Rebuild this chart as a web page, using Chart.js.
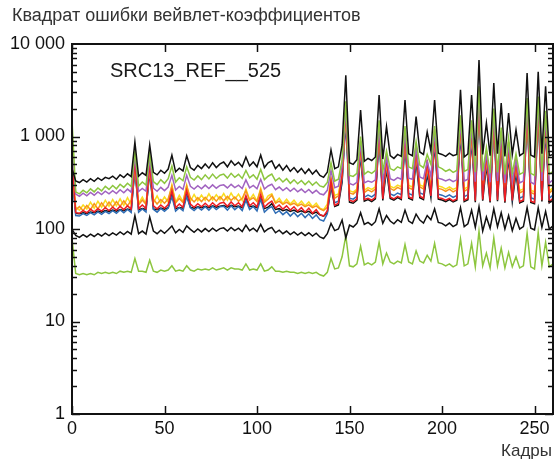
<!DOCTYPE html>
<html>
<head>
<meta charset="utf-8">
<script src="https://cdn.jsdelivr.net/npm/chart.js@4.4.1/dist/chart.umd.min.js"></script>
<style>
body { margin: 0; background: #fff; }
#wrap { position: relative; width: 558px; height: 462px; font-family: "Liberation Sans", Arial, sans-serif; color: #1a1a1a; }
#wrap canvas { position: absolute; left: 0; top: 0; }
#title { position: absolute; left: 12px; top: 5px; font-size: 18px; color: #333; }
#tag { position: absolute; left: 110px; top: 59px; font-size: 20px; }
#xlab { position: absolute; right: 6px; top: 441px; font-size: 17px; color: #333; }
</style>
</head>
<body>
<div id="wrap">
  <canvas id="myChart" width="558" height="462"></canvas>
  <div id="title">Квадрат ошибки вейвлет-коэффициентов</div>
  <div id="tag">SRC13_REF__525</div>
  <div id="xlab">Кадры</div>
</div>
<script>
// frames sampled every 2 frames, 0..260
const frames = Array.from({length: 131}, (_, i) => i * 2)

const xTicks = [0, 50, 100, 150, 200, 250]
const yTicks = [1, 10, 100, 1000, 10000]
const yLabels = ['1', '10', '100', '1 000', '10 000']

const blackTop = [
  450,330,318,342,322,350,328,356,335,362,
  350,372,345,385,360,395,368,870,372,405,
  380,810,410,385,432,400,445,630,415,455,
  425,620,462,432,488,450,505,455,520,462,
  505,530,470,545,488,525,470,600,480,530,
  470,630,462,520,545,450,498,432,485,420,
  462,410,452,398,445,392,432,380,362,410,
  715,450,470,810,4600,520,500,560,1930,540,
  580,550,600,2800,570,1280,620,580,640,610,
  2480,650,620,1640,680,640,1120,700,2480,660,
  640,610,660,620,640,3200,600,650,2800,620,
  6700,640,1400,620,3790,650,2300,610,1790,640,
  1180,620,660,4860,630,600,5000,650,3500,620,
  640]
const greenTop = [
  1500,252,240,262,246,272,252,278,258,290,
  268,295,272,305,282,312,288,700,292,322,
  298,650,325,302,342,312,350,480,322,358,
  332,470,362,338,375,342,385,348,392,352,
  382,392,355,400,362,390,352,430,358,385,
  345,440,342,372,392,332,356,322,350,312,
  340,308,334,302,330,298,322,292,284,318,
  520,330,345,560,2400,380,370,400,1000,390,
  420,400,430,1500,420,700,450,430,470,450,
  1300,470,450,880,490,460,640,500,1300,470,
  450,420,440,410,430,1700,420,440,1500,410,
  3500,420,760,400,2000,410,1250,390,960,400,
  650,390,410,2600,400,380,2700,410,1900,390,
  420]
const purple = [
  900,238,226,244,228,248,232,252,236,256,
  240,260,242,266,246,270,250,620,254,274,
  256,580,276,256,282,260,284,380,264,288,
  268,380,290,270,294,272,298,274,300,276,
  296,300,278,304,280,298,274,340,278,296,
  272,345,270,292,305,266,284,260,280,256,
  276,252,270,248,268,244,262,240,234,262,
  430,280,290,470,2100,310,300,320,880,315,
  330,320,340,1300,330,600,350,335,360,345,
  1150,355,345,760,365,350,540,370,1150,355,
  345,330,345,325,340,1500,330,345,1300,325,
  3100,335,660,320,1750,330,1100,315,840,325,
  560,315,330,2300,320,305,2400,330,1650,315,
  340]
const yellow = [
  500,172,160,182,165,195,168,200,172,205,
  176,208,178,212,180,218,184,520,188,222,
  186,480,192,228,190,222,196,300,194,232,
  198,300,200,236,202,232,204,240,206,234,
  208,242,205,245,210,238,204,270,208,236,
  200,275,198,228,240,194,215,188,210,186,
  205,182,200,178,196,174,190,168,162,186,
  360,230,240,400,1900,260,250,270,780,262,
  280,268,285,1150,275,530,290,278,298,285,
  1000,295,285,670,300,288,470,305,1000,292,
  285,270,285,268,280,1350,272,285,1150,268,
  2800,275,580,265,1550,272,960,260,740,268,
  490,260,272,2000,262,252,2100,270,1450,258,
  280]
const orange = [
  480,160,175,158,180,162,188,165,192,170,
  195,172,198,175,202,178,205,500,182,206,
  185,460,210,186,208,190,212,290,192,214,
  194,290,216,196,218,198,220,200,222,200,
  224,202,225,204,222,200,215,260,205,218,
  198,265,195,210,232,190,200,185,195,182,
  190,178,186,174,182,170,178,165,158,172,
  340,215,228,380,1800,245,238,258,740,248,
  265,252,270,1080,260,500,275,262,282,268,
  950,280,268,630,285,272,445,290,950,275,
  268,255,270,252,265,1280,256,270,1080,252,
  2650,260,550,250,1470,256,910,246,700,252,
  465,246,258,1900,248,238,2000,255,1380,244,
  265]
const red = [
  550,150,148,158,150,164,153,166,156,170,
  158,172,160,176,162,178,164,560,166,182,
  166,520,178,165,182,168,184,260,170,186,
  172,260,186,172,188,174,190,174,192,176,
  190,194,176,196,178,192,174,230,178,192,
  174,235,172,188,200,168,182,164,178,160,
  174,156,170,152,168,148,162,143,138,158,
  330,180,190,380,2200,205,198,212,900,208,
  215,205,220,1350,212,620,222,212,226,216,
  1200,222,214,800,226,216,560,228,1200,218,
  214,205,215,202,212,1600,205,214,1380,202,
  3300,208,690,200,1850,206,1130,198,870,204,
  580,198,206,2400,200,194,2500,205,1700,198,
  215]
const blue = [
  400,140,138,147,140,150,142,153,144,155,
  147,158,148,161,150,163,151,480,152,165,
  153,450,163,152,167,155,168,225,156,170,
  158,225,170,158,172,160,174,160,176,162,
  174,176,160,178,162,175,158,205,162,175,
  157,210,152,166,175,148,158,143,154,138,
  151,136,148,133,146,130,142,126,122,146,
  300,192,200,340,1600,215,210,225,680,220,
  232,222,238,1000,228,470,240,230,245,235,
  900,242,232,600,246,236,420,248,900,238,
  232,222,234,220,230,1200,224,234,1020,220,
  2500,228,520,218,1380,226,850,216,650,222,
  435,216,225,1800,218,210,1850,224,1280,216,
  232]
const blackMid = [
  420,148,146,150,147,153,150,156,152,158,
  155,160,156,162,158,164,160,450,162,166,
  163,420,165,162,168,164,170,235,166,171,
  168,235,172,168,174,170,176,170,178,172,
  176,179,172,180,174,177,170,215,174,177,
  170,218,166,172,188,163,166,158,162,155,
  160,152,157,150,155,146,152,142,138,150,
  290,175,182,320,1500,195,190,205,640,200,
  208,198,212,950,204,440,214,205,218,208,
  850,215,206,560,218,208,395,220,850,210,
  206,198,208,196,205,1120,198,207,960,195,
  2350,202,490,194,1300,200,800,192,610,198,
  410,192,200,1700,194,188,1750,198,1200,192,
  205]
const blackLow = [
  100,85,81,87,82,88,83,89,84,90,
  85,91,86,93,87,94,88,140,89,95,
  88,135,95,89,97,90,98,108,91,99,
  92,108,99,92,100,93,101,94,102,95,
  101,103,95,104,96,102,94,110,96,102,
  94,112,93,100,104,91,97,89,95,87,
  93,86,92,85,91,84,90,82,79,89,
  115,96,100,125,80,110,105,115,150,112,
  118,110,120,165,115,140,122,114,126,118,
  160,122,115,145,125,116,140,126,165,118,
  115,108,116,106,112,170,106,114,160,104,
  175,95,135,102,165,106,150,100,140,96,
  130,100,106,170,102,98,170,104,155,100,
  108]
const greenLow = [
  80,33,32,33,32,33,32,34,33,34,
  33,34,33,35,34,35,34,48,35,35,
  34,46,35,34,36,35,36,40,35,36,
  35,40,36,35,37,36,37,36,38,36,
  37,38,36,38,37,37,36,42,36,37,
  36,42,35,36,39,35,35,34,35,34,
  34,33,34,33,34,33,34,32,31,34,
  48,37,38,50,85,40,39,42,65,41,
  43,41,44,72,42,55,44,42,45,43,
  68,44,42,58,45,43,52,45,70,43,
  42,40,42,39,41,78,40,42,70,39,
  95,40,55,38,80,40,62,38,56,39,
  50,38,40,90,39,37,92,40,72,39,
  42]

// drawn in this order from the top down (index 0 on top)
const series = [
  {name: 'blackTop', values: blackTop, color: '#111111'},
  {name: 'greenTop', values: greenTop, color: '#8dc63f'},
  {name: 'purple', values: purple, color: '#a163c0'},
  {name: 'red', values: red, color: '#ec1c24'},
  {name: 'orange', values: orange, color: '#f7941d'},
  {name: 'yellow', values: yellow, color: '#f9dc1e'},
  {name: 'blue', values: blue, color: '#2f6db5'},
  {name: 'blackMid', values: blackMid, color: '#111111'},
  {name: 'blackLow', values: blackLow, color: '#111111'},
  {name: 'greenLow', values: greenLow, color: '#8dc63f'}
]

// inward ticks and plot frame
const frameTicks = {
  id: 'frameTicks',
  afterDraw(chart) {
    const {ctx, chartArea: a, scales: {x, y}} = chart
    const seg = (x1, y1, x2, y2) => { ctx.beginPath(); ctx.moveTo(x1, y1); ctx.lineTo(x2, y2); ctx.stroke() }
    ctx.save()
    ctx.strokeStyle = '#111'
    ctx.lineWidth = 1.5
    xTicks.forEach(v => {
      const px = Math.round(x.getPixelForValue(v)) + 0.5
      seg(px, a.bottom, px, a.bottom - 8)
      seg(px, a.top, px, a.top + 8)
    })
    for (let d = 1; d < 10000; d *= 10) {
      for (let k = 1; k <= 9; k++) {
        const py = Math.round(y.getPixelForValue(d * k)) + 0.5
        const len = k === 1 ? 8 : 5
        seg(a.left, py, a.left + len, py)
        seg(a.right, py, a.right - len, py)
      }
    }
    ctx.lineWidth = 2
    ctx.strokeRect(a.left, a.top, a.right - a.left, a.bottom - a.top)
    ctx.restore()
  }
}

const ctx = document.getElementById('myChart')

const chart = new Chart(ctx, {
  type: 'line',
  data: {
    datasets: series.map(s => ({
      label: s.name,
      data: frames.map((f, i) => ({x: f, y: s.values[i]})),
      borderColor: s.color,
      borderWidth: 1.5,
      pointRadius: 0,
      tension: 0,
      fill: false
    }))
  },
  options: {
    responsive: false,
    animation: false,
    layout: {padding: {top: 44, right: 5, left: 0, bottom: 0}},
    plugins: {legend: {display: false}, tooltip: {enabled: false}},
    scales: {
      x: {
        type: 'linear',
        min: 0,
        max: 260,
        grid: {display: false, drawTicks: false},
        border: {display: false},
        afterBuildTicks: s => { s.ticks = xTicks.map(v => ({value: v})) },
        afterFit: s => { s.height = 48 },
        ticks: {
          color: '#111',
          padding: 4,
          maxRotation: 0,
          font: {family: 'Liberation Sans, Arial, sans-serif', size: 18}
        }
      },
      y: {
        type: 'logarithmic',
        min: 1,
        max: 10000,
        grid: {display: false, drawTicks: false},
        border: {display: false},
        afterBuildTicks: s => { s.ticks = yTicks.map(v => ({value: v})) },
        afterFit: s => { s.width = 72 },
        ticks: {
          color: '#111',
          padding: 7,
          font: {family: 'Liberation Sans, Arial, sans-serif', size: 18},
          callback: v => yLabels[yTicks.indexOf(v)] ?? ''
        }
      }
    }
  },
  plugins: [frameTicks]
})
</script>
</body>
</html>
